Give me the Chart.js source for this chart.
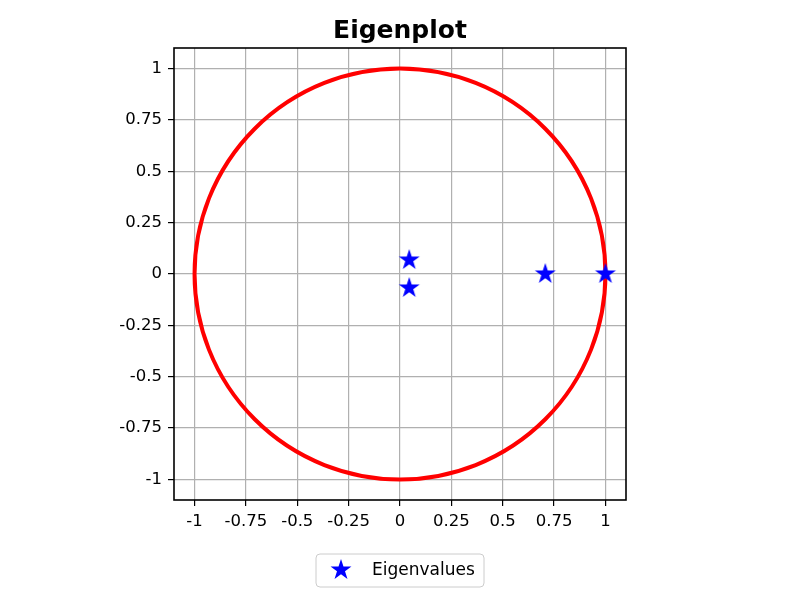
<!DOCTYPE html>
<html>
<head>
<meta charset="utf-8">
<script src="https://cdn.jsdelivr.net/npm/chart.js@4"></script>
<style>
  html, body { margin: 0; padding: 0; background: #fff; }
  #wrap { width: 800px; height: 600px; }
</style>
</head>
<body>
<div id="wrap"><canvas id="eigChart" width="800" height="600"></canvas></div>
<script>
// eigenvalues
var eig_re = [0.045, 0.045, 0.707, 1.0];
var eig_im = [0.068, -0.068, 0.0, 0.0];
var tick_values = [-1, -0.75, -0.5, -0.25, 0, 0.25, 0.5, 0.75, 1];
var tick_labels = ['-1', '-0.75', '-0.5', '-0.25', '0', '0.25', '0.5', '0.75', '1'];
var axis_limit = 1.1;
var unit_radius = 1;
var series_label = 'Eigenvalues';
var chart_title = 'Eigenplot';

var font_name = "'DejaVu Sans', sans-serif";

// filled 5 point star, like the matplotlib '*' marker
function makeStar(r) {
  var c = document.createElement('canvas');
  var s = Math.ceil(r * 2 + 2);
  c.width = s; c.height = s;
  var ctx = c.getContext('2d');
  var cx = s / 2, cy = s / 2;
  ctx.beginPath();
  for (var i = 0; i < 10; i++) {
    var rr = (i % 2 == 0) ? r : r * 0.382;
    var a = -Math.PI / 2 + i * Math.PI / 5;
    var x = cx + rr * Math.cos(a), y = cy + rr * Math.sin(a);
    if (i == 0) ctx.moveTo(x, y); else ctx.lineTo(x, y);
  }
  ctx.closePath();
  ctx.fillStyle = '#0000ff';
  ctx.fill();
  return c;
}
var star_img = makeStar(11);

var points = eig_re.map((re, i) => ({ x: re, y: eig_im[i] }));

const framePlugin = {
  id: 'frame',
  beforeDatasetsDraw(chart) {
    // unit circle, through the chart scales
    const ctx = chart.ctx, xs = chart.scales.x, ys = chart.scales.y;
    const cx = xs.getPixelForValue(0), cy = ys.getPixelForValue(0);
    const rx = xs.getPixelForValue(unit_radius) - cx;
    const ry = cy - ys.getPixelForValue(unit_radius);
    ctx.save();
    ctx.beginPath();
    ctx.ellipse(cx, cy, rx, ry, 0, 0, Math.PI * 2);
    ctx.strokeStyle = '#ff0000';
    ctx.lineWidth = 4;
    ctx.stroke();
    ctx.restore();
  },
  afterDraw(chart) {
    const ctx = chart.ctx, a = chart.chartArea;
    ctx.save();
    // spines
    ctx.strokeStyle = '#000';
    ctx.lineWidth = 1.6;
    ctx.strokeRect(a.left, a.top, a.right - a.left, a.bottom - a.top);
    // title
    ctx.fillStyle = '#000';
    ctx.font = 'bold 25px ' + font_name;
    ctx.textAlign = 'center';
    ctx.textBaseline = 'alphabetic';
    ctx.fillText(chart_title, (a.left + a.right) / 2, 38);
    // legend box
    const bx = 316, by = 554, bw = 168, bh = 33, br = 4;
    ctx.beginPath();
    ctx.roundRect(bx, by, bw, bh, br);
    ctx.fillStyle = 'rgba(255,255,255,0.8)';
    ctx.fill();
    ctx.strokeStyle = '#cccccc';
    ctx.lineWidth = 1;
    ctx.stroke();
    ctx.drawImage(star_img, 341 - star_img.width / 2, 570 - star_img.height / 2);
    ctx.fillStyle = '#000';
    ctx.font = '17px ' + font_name;
    ctx.textAlign = 'left';
    ctx.textBaseline = 'middle';
    ctx.fillText(series_label, 372, 571);
    ctx.restore();
  }
};

function axisOpts(pos) {
  return {
    type: 'linear',
    position: pos,
    min: -axis_limit,
    max: axis_limit,
    afterBuildTicks: (scale) => { scale.ticks = tick_values.map(v => ({ value: v })); },
    afterFit: (scale) => {
      if (pos == 'left') scale.width = 174;
      else scale.height = 100;
    },
    ticks: {
      color: '#000',
      font: { family: font_name, size: 16.5 },
      padding: 6,
      autoSkip: false,
      maxRotation: 0,
      callback: (v) => {
        const k = tick_values.indexOf(v);
        return k >= 0 ? tick_labels[k] : '';
      }
    },
    grid: {
      color: '#b0b0b0',
      lineWidth: 1.2,
      tickLength: 6,
      tickColor: '#000',
      tickWidth: 1.2
    },
    border: { display: false }
  };
}

const eigChart = new Chart(document.getElementById('eigChart'), {
  type: 'scatter',
  data: {
    datasets: [{
      label: series_label,
      data: points,
      pointStyle: star_img,
      pointRadius: 11,
      pointHoverRadius: 11
    }]
  },
  options: {
    responsive: false,
    animation: false,
    layout: { padding: { top: 48, right: 174, bottom: 0, left: 0 } },
    plugins: {
      legend: { display: false },
      title: { display: false },
      tooltip: { enabled: false }
    },
    scales: {
      x: axisOpts('bottom'),
      y: axisOpts('left')
    }
  },
  plugins: [framePlugin]
});
</script>
</body>
</html>
